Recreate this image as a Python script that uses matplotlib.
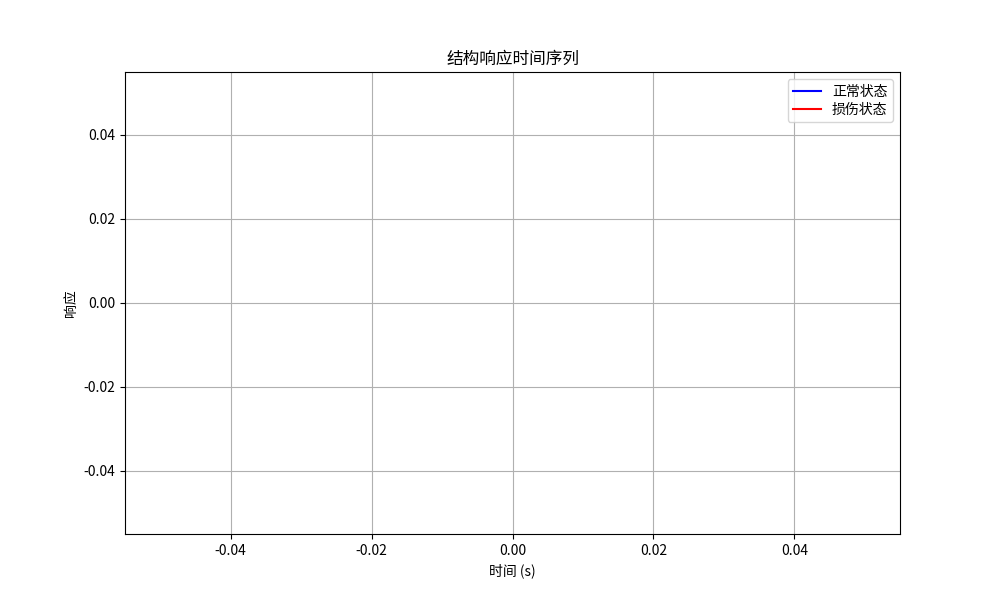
import matplotlib
matplotlib.use('Agg')
import matplotlib.pyplot as plt

plt.rcParams['font.family'] = ['Noto Sans CJK SC', 'DejaVu Sans']
plt.rcParams['axes.unicode_minus'] = False

# the reference series are empty: nothing was recorded
time_s = []
normal_response = []
damaged_response = []

fig, ax = plt.subplots(figsize=(10, 6), dpi=100)
ax.plot(time_s, normal_response, 'b-', label='正常状态')
ax.plot(time_s, damaged_response, 'r-', label='损伤状态')

ax.set_title('结构响应时间序列')
ax.set_xlabel('时间 (s)')
ax.set_ylabel('响应')
ax.legend(loc='upper right', labelspacing=0.3)
ax.grid(True)

fig.savefig('out.png')
